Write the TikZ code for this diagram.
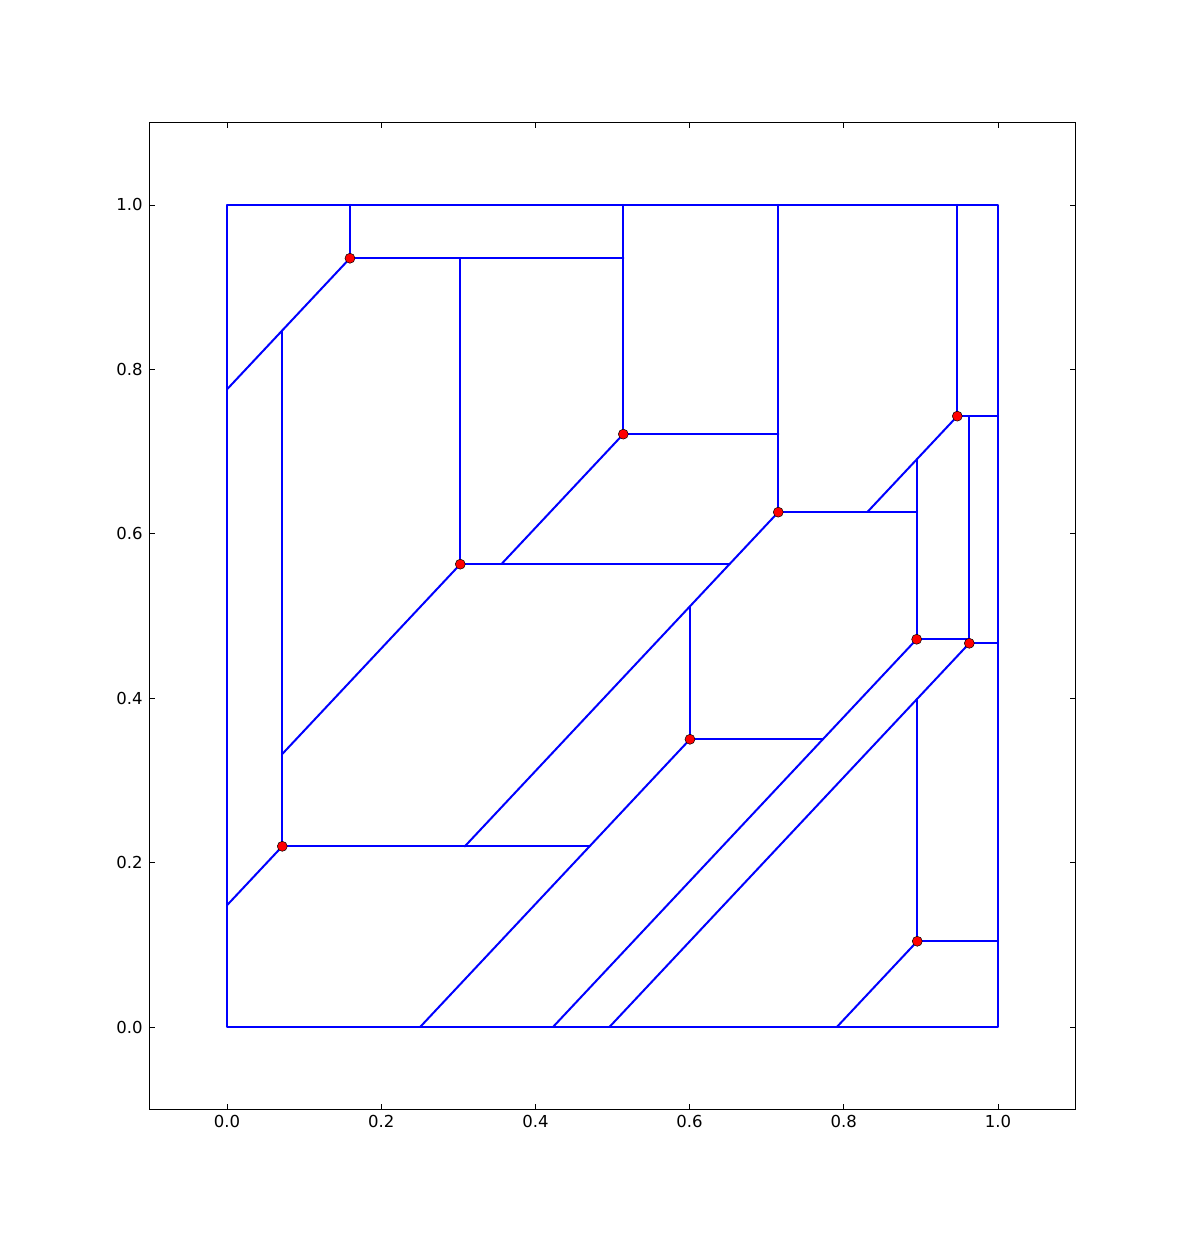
\documentclass[tikz,border=0pt]{standalone}
\usepackage{fontspec}
\setmainfont{DejaVu Sans}
\begin{document}
\begin{tikzpicture}[x=771pt,y=822pt,
  edge/.style={draw=blue, line width=2pt, line cap=round, line join=round},
  axframe/.style={draw=black, line width=1pt},
  tickmark/.style={draw=black, line width=0.8pt},
  site/.style={circle, fill=red, draw=black, line width=0.5pt, inner sep=0pt, minimum size=10pt},
  ticklab/.style={inner sep=0pt, font=\fontsize{16.5}{18}\selectfont}]
\useasboundingbox (-0.29442,-0.25061) rectangle (1.25551,1.24939);
% axes frame
\draw[axframe] (-0.1,-0.1) rectangle (1.1,1.1);
\foreach \t/\lab in {0/0.0,0.2/0.2,0.4/0.4,0.6/0.6,0.8/0.8,1/1.0}{
  \draw[tickmark] (\t,-0.1) -- ++(0pt,5pt);
  \draw[tickmark] (\t,1.1) -- ++(0pt,-5pt);
  \draw[tickmark] (-0.1,\t) -- ++(5pt,0pt);
  \draw[tickmark] (1.1,\t) -- ++(-5pt,0pt);
  \node[ticklab, anchor=north, yshift=-6pt] (bx\lab) at (\t,-0.1) {\lab};
  \node[ticklab, anchor=east, xshift=-7pt] (ly\lab) at (-0.1,\t) {\lab};
}
% sites
\coordinate (P1) at (0.1595,0.9352);
\coordinate (P2) at (0.5140,0.7212);
\coordinate (P3) at (0.3026,0.5630);
\coordinate (P4) at (0.7150,0.6263);
\coordinate (P5) at (0.9472,0.7431);
\coordinate (P6) at (0.8945,0.4717);
\coordinate (P7) at (0.9628,0.4668);
\coordinate (P8) at (0.6005,0.3500);
\coordinate (P9) at (0.0717,0.2198);
\coordinate (P10) at (0.8953,0.1043);
% square corners
\coordinate (SW) at (0,0);
\coordinate (SE) at (1,0);
\coordinate (NE) at (1,1);
\coordinate (NW) at (0,1);
% segment ends
\coordinate (A1) at (0,0.7757);
\coordinate (T1) at (0.1595,1);
\coordinate (H1) at (0.5140,0.9352);
\coordinate (T2) at (0.5140,1);
\coordinate (V3) at (0.3026,0.9352);
\coordinate (V9) at (0.0717,0.8474);
\coordinate (H2) at (0.7150,0.7212);
\coordinate (T4) at (0.7150,1);
\coordinate (D2) at (0.3558,0.5630);
\coordinate (H3) at (0.6517,0.5630);
\coordinate (D3) at (0.0717,0.3321);
\coordinate (H4) at (0.8945,0.6263);
\coordinate (D4) at (0.3085,0.2198);
\coordinate (D5) at (0.8304,0.6263);
\coordinate (T5) at (0.9472,1);
\coordinate (R5) at (1,0.7431);
\coordinate (V7) at (0.9628,0.7431);
\coordinate (V6) at (0.8945,0.6904);
\coordinate (H6) at (0.9628,0.4717);
\coordinate (R7) at (1,0.4668);
\coordinate (B6) at (0.4228,0);
\coordinate (B7) at (0.4960,0);
\coordinate (V8) at (0.6005,0.5118);
\coordinate (H8) at (0.7728,0.3500);
\coordinate (B8) at (0.2505,0);
\coordinate (H9) at (0.4703,0.2198);
\coordinate (L9) at (0,0.1481);
\coordinate (V10) at (0.8953,0.3993);
\coordinate (R10) at (1,0.1043);
\coordinate (B10) at (0.7910,0);
% outer square
\draw[edge] (SW) -- (SE) -- (NE) -- (NW) -- cycle;
% edges
\draw[edge] (A1) -- (P1);
\draw[edge] (P1) -- (T1);
\draw[edge] (P1) -- (H1);
\draw[edge] (P2) -- (T2);
\draw[edge] (V3) -- (P3);
\draw[edge] (V9) -- (P9);
\draw[edge] (P2) -- (H2);
\draw[edge] (P4) -- (T4);
\draw[edge] (P2) -- (D2);
\draw[edge] (P3) -- (H3);
\draw[edge] (P3) -- (D3);
\draw[edge] (P4) -- (H4);
\draw[edge] (P4) -- (D4);
\draw[edge] (P5) -- (D5);
\draw[edge] (P5) -- (T5);
\draw[edge] (P5) -- (R5);
\draw[edge] (V7) -- (P7);
\draw[edge] (V6) -- (P6);
\draw[edge] (P6) -- (H6);
\draw[edge] (P7) -- (R7);
\draw[edge] (P6) -- (B6);
\draw[edge] (P7) -- (B7);
\draw[edge] (V8) -- (P8);
\draw[edge] (P8) -- (H8);
\draw[edge] (P8) -- (B8);
\draw[edge] (P9) -- (H9);
\draw[edge] (P9) -- (L9);
\draw[edge] (V10) -- (P10);
\draw[edge] (P10) -- (R10);
\draw[edge] (P10) -- (B10);
% site markers
\foreach \p in {P1,P2,P3,P4,P5,P6,P7,P8,P9,P10}
  \node[site] (m\p) at (\p) {};
\end{tikzpicture}
\end{document}
